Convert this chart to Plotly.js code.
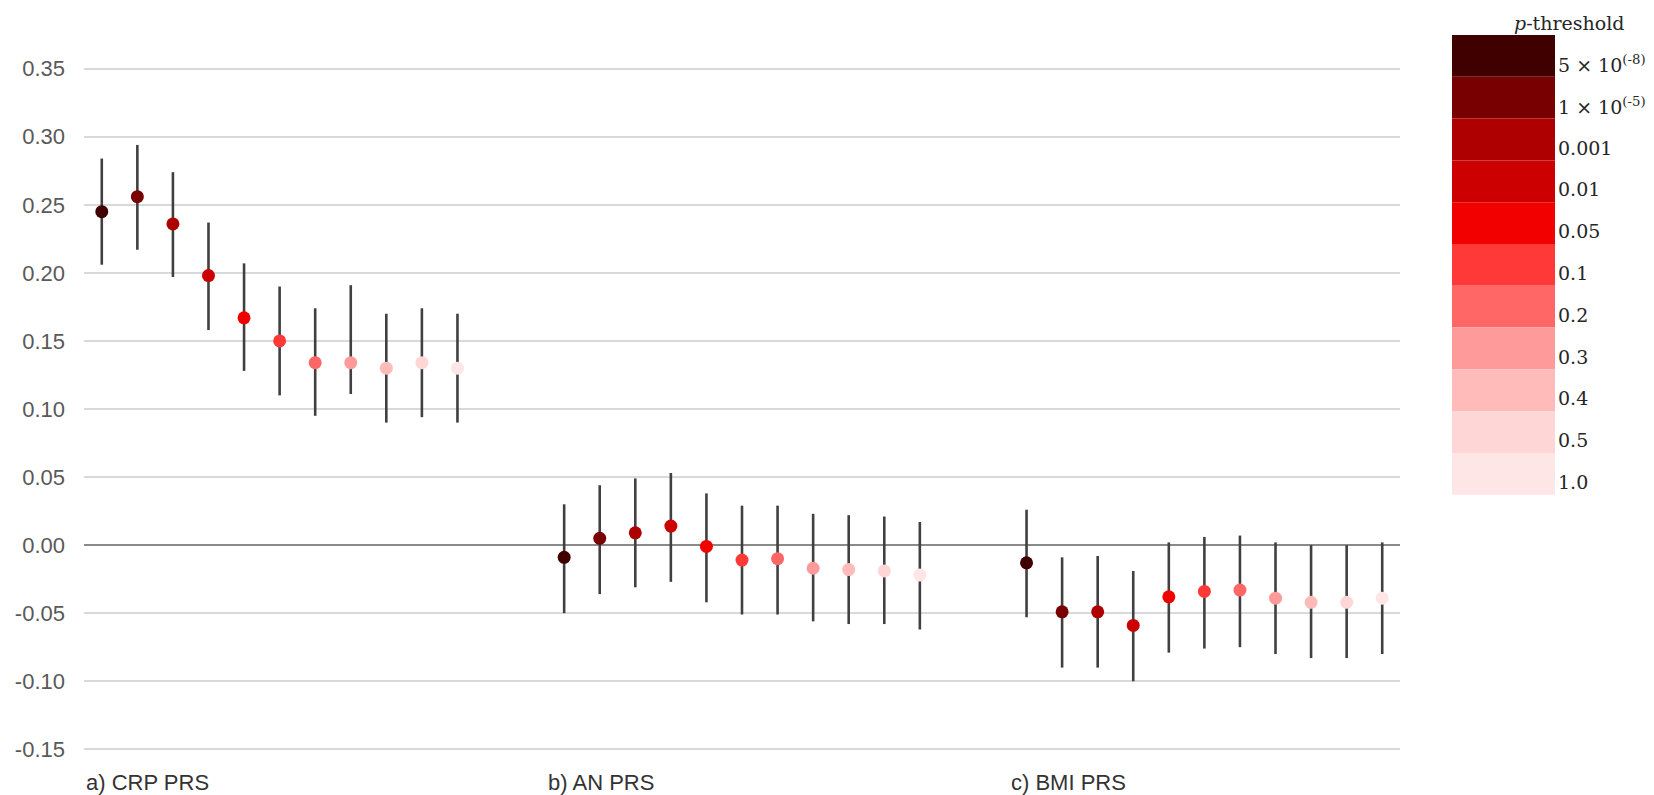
<!DOCTYPE html>
<html>
<head>
<meta charset="utf-8">
<script src="https://cdn.plot.ly/plotly-3.0.1.min.js"></script>
<style>
  html, body { margin: 0; padding: 0; background: #ffffff; }
  #chart { width: 1654px; height: 795px; }
</style>
</head>
<body>
<div id="chart"></div>
<script>
// PRS groups shown along the x axis
const groups = ['a) CRP PRS', 'b) AN PRS', 'c) BMI PRS'];

// p-value thresholds (legend labels) and their colours
const thresholdLabels = ['5 × 10<sup>(-8)</sup>', '1 × 10<sup>(-5)</sup>', '0.001', '0.01', '0.05',
                         '0.1', '0.2', '0.3', '0.4', '0.5', '1.0'];
const thresholdColors = ['#400000', '#780000', '#ae0000', '#cc0000', '#f20000',
                         '#ff3838', '#ff6666', '#ff9a9a', '#ffbaba', '#ffd6d6', '#ffe6e6'];

// Estimates with lower / upper confidence limits, one value per threshold
const crpEst = [0.245, 0.256, 0.236, 0.198, 0.167, 0.150, 0.134, 0.134, 0.130, 0.134, 0.130];
const crpLo  = [0.206, 0.217, 0.197, 0.158, 0.128, 0.110, 0.095, 0.111, 0.090, 0.094, 0.090];
const crpHi  = [0.284, 0.294, 0.274, 0.237, 0.207, 0.190, 0.174, 0.191, 0.170, 0.174, 0.170];

const anEst = [-0.009, 0.005, 0.009, 0.014, -0.001, -0.011, -0.010, -0.017, -0.018, -0.019, -0.022];
const anLo  = [-0.050, -0.036, -0.031, -0.027, -0.042, -0.051, -0.051, -0.056, -0.058, -0.058, -0.062];
const anHi  = [0.030, 0.044, 0.049, 0.053, 0.038, 0.029, 0.029, 0.023, 0.022, 0.021, 0.017];

const bmiEst = [-0.013, -0.049, -0.049, -0.059, -0.038, -0.034, -0.033, -0.039, -0.042, -0.042, -0.039];
const bmiLo  = [-0.053, -0.090, -0.090, -0.100, -0.079, -0.076, -0.075, -0.080, -0.083, -0.083, -0.080];
const bmiHi  = [0.026, -0.009, -0.008, -0.019, 0.002, 0.006, 0.007, 0.002, 0.000, 0.000, 0.002];

// Y axis ticks
const yTickVals = [-0.15, -0.10, -0.05, 0.00, 0.05, 0.10, 0.15, 0.20, 0.25, 0.30, 0.35];
const yTickText = ['-0.15', '-0.10', '-0.05', '0.00', '0.05', '0.10', '0.15', '0.20', '0.25', '0.30', '0.35'];

const legendTitle = '<i>p</i>-threshold';

// ---------------------------------------------------------------------------
const est = [crpEst, anEst, bmiEst];
const lo  = [crpLo, anLo, bmiLo];
const hi  = [crpHi, anHi, bmiHi];
const nThr = thresholdLabels.length;
const slot = nThr + 2;           // points per group plus a two-slot gap

const traces = thresholdLabels.map((lab, t) => {
  const xs = [], ys = [], up = [], dn = [];
  groups.forEach((g, gi) => {
    xs.push(gi * slot + t);
    ys.push(est[gi][t]);
    up.push(hi[gi][t] - est[gi][t]);
    dn.push(est[gi][t] - lo[gi][t]);
  });
  return {
    type: 'scatter', mode: 'markers', name: lab,
    x: xs, y: ys,
    marker: { color: thresholdColors[t], size: 13 },
    error_y: { type: 'data', symmetric: false, array: up, arrayminus: dn,
               color: '#404040', thickness: 2.6, width: 0 },
    showlegend: false, hoverinfo: 'x+y'
  };
});

// plot box in pixels
const W = 1654, H = 795;
const M = { l: 84, r: 254, t: 66, b: 43 };
const PW = W - M.l - M.r, PH = H - M.t - M.b;
const px2paperX = px => (px - M.l) / PW;
const px2paperY = py => (H - M.b - py) / PH;

// colour key on the right
const keyX0 = 1452, keyX1 = 1555, keyTop = 35, keyStep = 41.8;
const shapes = thresholdColors.map((c, i) => ({
  type: 'rect', xref: 'paper', yref: 'paper',
  x0: px2paperX(keyX0), x1: px2paperX(keyX1),
  y0: px2paperY(keyTop + (i + 1) * keyStep), y1: px2paperY(keyTop + i * keyStep),
  fillcolor: c, line: { width: 0 }, layer: 'above'
}));

const annotations = [];
thresholdLabels.forEach((lab, i) => {
  annotations.push({
    xref: 'paper', yref: 'paper', x: px2paperX(1556), y: px2paperY(keyTop + (i + 0.5) * keyStep + 8),
    xanchor: 'left', yanchor: 'middle', showarrow: false, text: lab,
    font: { family: 'DejaVu Serif', size: 19, color: '#262626' }
  });
});
annotations.push({
  xref: 'paper', yref: 'paper', x: px2paperX(1569), y: px2paperY(23),
  xanchor: 'center', yanchor: 'middle', showarrow: false, text: legendTitle,
  font: { family: 'DejaVu Serif', size: 19, color: '#262626' }
});
groups.forEach((g, gi) => {
  annotations.push({
    xref: 'x', yref: 'paper', x: gi * slot - 0.5, y: 0,
    xanchor: 'left', yanchor: 'middle', yshift: -30, showarrow: false, text: g,
    font: { family: 'Liberation Sans', size: 22, color: '#333333' }
  });
});

const layout = {
  width: W, height: H,
  margin: M,
  paper_bgcolor: '#ffffff', plot_bgcolor: '#ffffff',
  showlegend: false,
  xaxis: {
    range: [-0.5, groups.length * slot - 2 - 0.5],
    showgrid: false, zeroline: false, showline: false,
    showticklabels: false, ticks: ''
  },
  yaxis: {
    range: [-0.152, 0.352],
    tickvals: yTickVals, ticktext: yTickText,
    showgrid: true, gridcolor: '#d9d9d9', gridwidth: 2,
    zeroline: true, zerolinecolor: '#8a8a8a', zerolinewidth: 2,
    showline: false, ticks: '', ticklabelstandoff: 18,
    tickfont: { family: 'Liberation Sans', size: 22, color: '#595959' }
  },
  shapes: shapes,
  annotations: annotations
};

Plotly.newPlot('chart', traces, layout, { displayModeBar: false, staticPlot: true });
</script>
</body>
</html>
